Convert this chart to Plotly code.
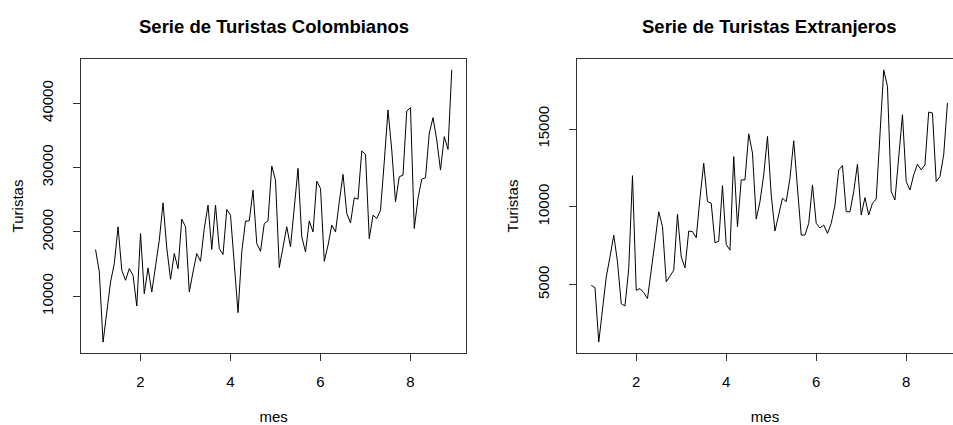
import numpy as np
import plotly.graph_objects as go

# ---- data (ts, start = 1, frequency = 12) ----
inicio = 1
frecuencia = 12

colombianos = [17270, 13800, 2885, 7560, 12230, 15090, 20800, 14050, 12490, 14310, 13270, 8490,
               19760, 10420, 14410, 10670, 14500, 18720, 24530, 17500, 12650, 16650, 14310, 21990,
               20800, 10670, 13790, 16650, 15450, 20540, 24170, 17300, 24170, 17430, 16490, 23500,
               22610, 14310, 7460, 16900, 21680, 21730, 26500, 18200, 17000, 21320, 21730, 30240,
               28060, 14470, 17430, 20800, 17680, 23650, 29880, 19230, 16900, 21730, 20010, 27900,
               26770, 15450, 17940, 21060, 20010, 24680, 28950, 22880, 21410, 25310, 25100, 32580,
               32060, 18980, 22610, 22100, 23390, 30910, 38960, 32730, 24680, 28580, 28840, 38800,
               39320, 20540, 25210, 28220, 28420, 35330, 37760, 34290, 29620, 34810, 32840, 45190]

extranjeros = [4955, 4800, 1300, 3450, 5490, 6780, 8180, 6460, 3775, 3620, 6030, 12000,
               4630, 4740, 4480, 4100, 5810, 7750, 9680, 8720, 5170, 5555, 5920, 9520,
               6780, 6070, 8440, 8400, 8010, 10550, 12800, 10330, 10225, 7685, 7790, 11360,
               7580, 7210, 13230, 8715, 11730, 11730, 14690, 13450, 9210, 10330, 12050, 14520,
               10760, 8440, 9515, 10550, 10330, 11840, 14240, 11190, 8180, 8180, 8935, 11405,
               8935, 8640, 8825, 8290, 8935, 10115, 12370, 12650, 9680, 9680, 10970, 12740,
               9470, 10590, 9470, 10225, 10500, 14630, 18800, 17745, 10970, 10440, 13340, 15920,
               11620, 11080, 12050, 12740, 12370, 12700, 16090, 16030, 11620, 11940, 13340, 16675]

titulos = ["Serie de Turistas Colombianos", "Serie de Turistas Extranjeros"]
x_ticks = [2, 4, 6, 8]
y_ticks_col = [10000, 20000, 30000, 40000]
y_ticks_ext = [5000, 10000, 15000]

mes = inicio + np.arange(len(colombianos)) / frecuencia


def r_range(v):
    lo, hi = float(np.min(v)), float(np.max(v))
    pad = 0.04 * (hi - lo)
    return [lo - pad, hi + pad]


W, H = 953, 425
FONT = "Liberation Sans, Arial, sans-serif"

xr = r_range(mes)
# left panel box in pixels
L0, L1 = 81.3, 466.0
R0 = 577.0
px_per_unit = (L1 - L0) / (xr[1] - xr[0])
xr_right = [xr[0], xr[0] + (W - R0) / px_per_unit]

top_px, bot_px = 59.0, 353.0
ydom = [(H - bot_px) / H, (H - top_px) / H]

fig = go.Figure()
fig.add_trace(go.Scatter(x=mes, y=colombianos, mode="lines",
                         line=dict(color="black", width=1), xaxis="x", yaxis="y",
                         showlegend=False, hoverinfo="skip"))
fig.add_trace(go.Scatter(x=mes, y=extranjeros, mode="lines",
                         line=dict(color="black", width=1), xaxis="x2", yaxis="y2",
                         showlegend=False, hoverinfo="skip"))

axis_common = dict(showgrid=False, zeroline=False, showline=True, linecolor="#333",
                   linewidth=1, ticks="outside", ticklen=7, tickwidth=1, tickcolor="#333",
                   automargin=False,
                   tickfont=dict(family=FONT, size=15, color="black"))

xcommon = dict(axis_common, tickvals=x_ticks, ticklabelstandoff=8,
               title=dict(text="mes", font=dict(family=FONT, size=15, color="black"), standoff=22))
ycommon = dict(axis_common, tickangle=-90, ticklabelstandoff=14, tickformat="d",
               title=dict(text="Turistas", font=dict(family=FONT, size=15, color="black"), standoff=12))

fig.update_layout(
    width=W, height=H, autosize=False,
    margin=dict(l=0, r=0, t=0, b=0),
    paper_bgcolor="white", plot_bgcolor="white",
    xaxis=dict(xcommon, domain=[L0 / W, L1 / W], range=xr, mirror=True, anchor="y"),
    yaxis=dict(ycommon, domain=ydom, range=r_range(colombianos), tickvals=y_ticks_col,
               mirror=True, anchor="x"),
    xaxis2=dict(xcommon, domain=[R0 / W, 1.0], range=xr_right, mirror=True, anchor="y2"),
    yaxis2=dict(ycommon, domain=ydom, range=r_range(extranjeros), tickvals=y_ticks_ext,
                mirror=False, anchor="x2"),
    annotations=[
        dict(text="<b>%s</b>" % titulos[0], x=(L0 + L1) / 2 / W, y=(H - 27) / H,
             xref="paper", yref="paper", showarrow=False, xanchor="center", yanchor="middle",
             font=dict(family=FONT, size=18.5, color="black")),
        dict(text="<b>%s</b>" % titulos[1], x=(R0 + R0 + (L1 - L0)) / 2 / W, y=(H - 27) / H,
             xref="paper", yref="paper", showarrow=False, xanchor="center", yanchor="middle",
             font=dict(family=FONT, size=18.5, color="black")),
    ],
)

fig.write_html("out.html", config={"displayModeBar": False},
               post_script="document.body.style.margin='0';document.body.style.padding='0';")
